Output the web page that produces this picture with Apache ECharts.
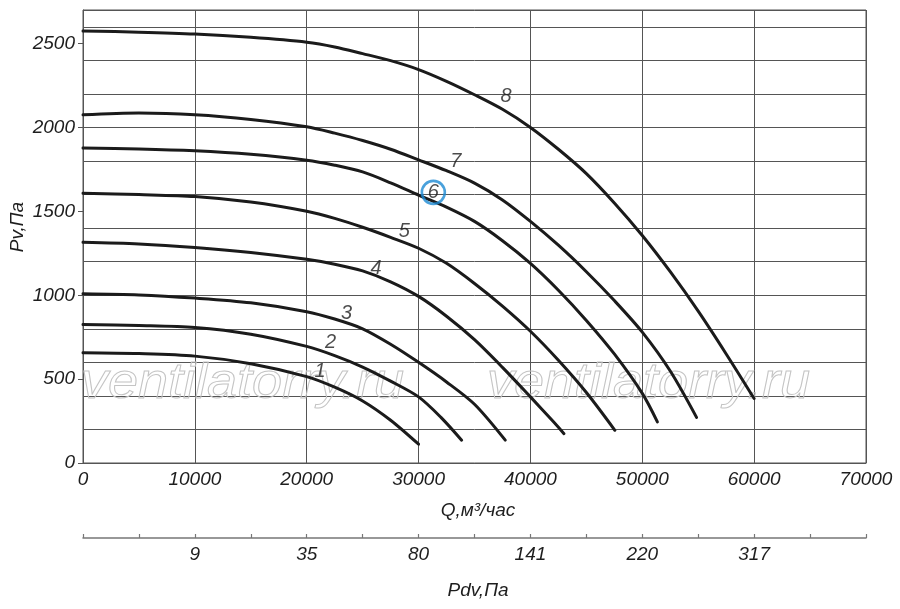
<!DOCTYPE html>
<html><head><meta charset="utf-8">
<script src="https://cdn.jsdelivr.net/npm/echarts@6/dist/echarts.min.js"></script>
<style>html,body{margin:0;padding:0;background:#fff}#c{width:900px;height:609px}</style>
</head><body><div id="c"></div>
<script>
// Fan curves: [Q (m3/h), Pv (Pa)]
const curve1 = [[0,657],[5000,652],[10000,637],[15000,592],[20000,515],[22500,452],[25000,370],[27500,255],[30000,112]];
const curve2 = [[0,826],[5000,820],[10000,808],[15000,768],[20000,695],[22500,640],[25000,572],[27500,488],[30000,394],[32000,272],[33850,136]];
const curve3 = [[0,1009],[5000,1002],[10000,983],[15000,955],[20000,902],[22500,858],[25000,800],[27500,708],[30000,600],[32500,483],[35000,350],[37750,136]];
const curve4 = [[0,1316],[5000,1306],[10000,1285],[15000,1255],[20000,1214],[22500,1185],[25000,1145],[27500,1080],[30000,993],[32500,875],[35000,735],[37500,570],[40000,394],[42000,250],[43000,175]];
const curve5 = [[0,1608],[5000,1600],[10000,1588],[15000,1555],[20000,1500],[22500,1458],[25000,1405],[27500,1345],[30000,1280],[32500,1190],[35000,1070],[37500,935],[40000,785],[42500,612],[45000,420],[47550,195]];
const curve6 = [[0,1877],[5000,1872],[10000,1861],[15000,1840],[20000,1805],[22500,1775],[25000,1735],[27500,1670],[30000,1597],[32500,1525],[35000,1440],[37500,1325],[40000,1190],[42500,1030],[45000,850],[47500,650],[50000,415],[51350,245]];
const curve7 = [[0,2075],[5000,2086],[10000,2076],[15000,2048],[20000,2004],[22500,1966],[25000,1922],[27500,1870],[30000,1807],[32500,1742],[35000,1668],[37500,1568],[40000,1440],[42500,1298],[45000,1140],[47500,968],[50000,780],[52500,548],[54850,272]];
const curve8 = [[0,2575],[5000,2568],[10000,2557],[15000,2537],[20000,2508],[22500,2480],[25000,2440],[27500,2398],[30000,2345],[32500,2275],[35000,2195],[37500,2108],[40000,2000],[42500,1870],[45000,1725],[47500,1550],[50000,1356],[52500,1140],[55000,905],[57500,650],[60000,384]];
const curves = [curve1, curve2, curve3, curve4, curve5, curve6, curve7, curve8];

// Curve number labels: [Q, Pv, text]
const curveLabels = [[21190,546,'1'],[22140,717,'2'],[23570,892,'3'],[26190,1160,'4'],[28720,1379,'5'],[31320,1613,'6'],[33320,1795,'7'],[37820,2187,'8']];
const circledLabel = [[31320,1613]];

// Axis ticks
const yLabelTicks = [0,500,1000,1500,2000,2500];
const pdvQ = [10000,20000,30000,40000,50000,60000];
const pdvLabels = ['9','35','80','141','220','317'];

const FONT = 'Liberation Sans';
const chart = echarts.init(document.getElementById('c'), null, {renderer:'canvas'});

const series = curves.map((c, i) => ({
  type:'line', data:c, xAxisIndex:0, yAxisIndex:0, smooth:0.3, symbol:'none',
  lineStyle:{color:'#1b1b1b', width:3, cap:'round'}, z:3, silent:true
}));
series.push({
  type:'scatter', data:curveLabels.map(d => [d[0], d[1], d[2]]), xAxisIndex:0, yAxisIndex:0,
  symbolSize:0, z:5, silent:true,
  label:{show:true, position:'inside', formatter:p => p.data[2], color:'#1e1e1e',
    fontFamily:FONT, fontStyle:'italic', fontSize:20}
});
series.push({
  type:'scatter', data:circledLabel, xAxisIndex:0, yAxisIndex:0, symbol:'circle', symbolSize:23, z:4, silent:true,
  itemStyle:{color:'rgba(255,255,255,0)', borderColor:'#1b8ad3', borderWidth:2.6}
});

const plain = v => String(v);

chart.setOption({
  animation:false,
  backgroundColor:'#fff',
  grid:[
    {left:83, right:34, top:10, bottom:146, show:true, borderColor:'#555', borderWidth:1, backgroundColor:'transparent'},
    {left:83, right:34, top:537, height:1}
  ],
  xAxis:[
    {type:'value', gridIndex:0, min:0, max:70000, interval:10000,
      axisLine:{show:true, lineStyle:{color:'#555', width:1}}, axisTick:{show:false},
      splitLine:{show:true, lineStyle:{color:'#555', width:1}},
      axisLabel:{color:'#1e1e1e', fontFamily:FONT, fontStyle:'italic', fontSize:19, margin:7, formatter:plain}},
    {type:'value', gridIndex:1, min:0, max:70000, interval:5000, position:'bottom',
      axisLine:{show:true, lineStyle:{color:'#777', width:1.5}},
      axisTick:{show:true, inside:true, length:4, lineStyle:{color:'#777', width:1.2}},
      splitLine:{show:false},
      axisLabel:{customValues:pdvQ, color:'#1e1e1e', fontFamily:FONT, fontStyle:'italic', fontSize:19, margin:7,
        formatter:v => { const i = pdvQ.indexOf(v); return i >= 0 ? pdvLabels[i] : ''; }}}
  ],
  yAxis:[
    {type:'value', gridIndex:0, min:0, max:2700, interval:200,
      axisLine:{show:true, lineStyle:{color:'#555'}}, axisTick:{show:false}, axisLabel:{show:false},
      splitLine:{show:true, lineStyle:{color:'#555', width:1}}},
    {type:'value', gridIndex:0, min:0, max:2700, position:'left',
      axisLine:{show:false}, splitLine:{show:false},
      axisTick:{show:true, customValues:yLabelTicks, length:5, lineStyle:{color:'#555'}},
      axisLabel:{customValues:yLabelTicks, color:'#1e1e1e', fontFamily:FONT, fontStyle:'italic', fontSize:19, margin:8, formatter:plain}},
    {type:'value', gridIndex:1, show:false}
  ],
  graphic:[
    {type:'text', x:81, y:384, z:1, scaleX:1.08, silent:true,
      style:{text:'ventilatorry.ru', font:'italic 50px "Liberation Sans"', fill:'rgba(255,255,255,0)', stroke:'#c4c4c4', lineWidth:1, textAlign:'left', textVerticalAlign:'middle'}},
    {type:'text', x:487, y:384, z:1, scaleX:1.08, silent:true,
      style:{text:'ventilatorry.ru', font:'italic 50px "Liberation Sans"', fill:'rgba(255,255,255,0)', stroke:'#c4c4c4', lineWidth:1, textAlign:'left', textVerticalAlign:'middle'}},
    {type:'text', x:478, y:511, silent:true,
      style:{text:'Q,м³/час', font:'italic 19px "Liberation Sans"', fill:'#1e1e1e', textAlign:'center', textVerticalAlign:'middle'}},
    {type:'text', x:478, y:591, silent:true,
      style:{text:'Pdv,Па', font:'italic 19px "Liberation Sans"', fill:'#1e1e1e', textAlign:'center', textVerticalAlign:'middle'}},
    {type:'text', x:18, y:227, rotation:Math.PI/2, silent:true,
      style:{text:'Pv,Па', font:'italic 19px "Liberation Sans"', fill:'#1e1e1e', textAlign:'center', textVerticalAlign:'middle'}}
  ],
  series:series
});
</script></body></html>
